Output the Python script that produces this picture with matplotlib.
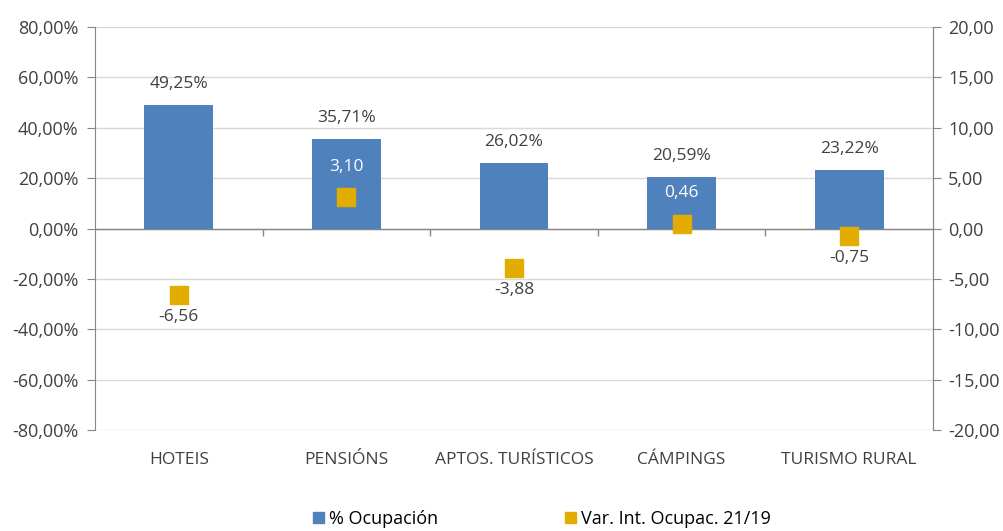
import matplotlib.pyplot as plt
import numpy as np
from matplotlib.patches import Patch

categorias = ['HOTEIS', 'PENSIÓNS', 'APTOS. TURÍSTICOS', 'CÁMPINGS', 'TURISMO RURAL']
ocupacion = [49.25, 35.71, 26.02, 20.59, 23.22]
variacion = [-6.56, 3.10, -3.88, 0.46, -0.75]

azul = '#4F81BD'
amarelo = '#E3AC00'
gris = '#404040'

plt.rcParams['font.family'] = ['Open Sans', 'DejaVu Sans']
plt.rcParams['font.size'] = 13

fig = plt.figure(figsize=(10.04, 5.31), dpi=100)
ax = fig.add_axes([0.0946, 0.190, 0.8347, 0.759])
x = np.arange(len(categorias))

ax.bar(x, ocupacion, width=0.41, color=azul, zorder=3)
ax.set_xlim(-0.5, len(categorias) - 0.5)
ax.set_ylim(-80, 80)
yt = np.arange(-80, 81, 20)
ax.set_yticks(yt)
ax.yaxis.set_ticklabels([('%.2f%%' % v).replace('.', ',') for v in yt])
ax.grid(axis='y', color='#D9D9D9', linewidth=1, zorder=0)
ax.axhline(0, color='#868686', linewidth=1, zorder=2)
ax.set_xticks(x)
ax.set_xticklabels(categorias, color=gris, fontsize=12.5)
ax.tick_params(axis='x', length=0, pad=16)
ax.tick_params(axis='y', length=6, color='#868686', labelcolor=gris, labelsize=13, pad=6)
for s in ['top', 'bottom']:
    ax.spines[s].set_visible(False)
ax.spines['left'].set_color('#868686')
ax.spines['right'].set_color('#868686')

# marcas entre categorias no eixo 0
bordes = np.arange(len(categorias) + 1) - 0.5
ax.vlines(bordes[1:-1], -2.8, 0, color='#868686', linewidth=1, zorder=2)

for xi, v in zip(x, ocupacion):
    ax.annotate(('%.2f%%' % v).replace('.', ','), (xi, v), xytext=(0, 15),
                textcoords='offset points', ha='center', va='center', color=gris, fontsize=12.5)

ax2 = ax.twinx()
ax2.set_ylim(-20, 20)
yt2 = np.arange(-20, 21, 5)
ax2.set_yticks(yt2)
ax2.set_yticklabels([('%.2f' % v).replace('.', ',') for v in yt2])
ax2.tick_params(axis='y', length=6, color='#868686', labelcolor=gris, labelsize=13, pad=5)
for s in ['top', 'bottom', 'left']:
    ax2.spines[s].set_visible(False)
ax2.spines['right'].set_color('#868686')
ax2.scatter(x, variacion, marker='s', s=165, color=amarelo, zorder=5)

for xi, v in zip(x, variacion):
    txt = ('%.2f' % v).replace('.', ',')
    if v > 0:
        ax2.annotate(txt, (xi, v), xytext=(0, 22), textcoords='offset points',
                     ha='center', va='center', color='white', fontsize=12.5)
    else:
        ax2.annotate(txt, (xi, v), xytext=(0, -16), textcoords='offset points',
                     ha='center', va='center', color=gris, fontsize=12.5)

handles = [Patch(color=azul), Patch(color=amarelo)]
fig.legend(handles, ['% Ocupación', 'Var. Int. Ocupac. 21/19'], loc='lower center',
           bbox_to_anchor=(0.54, -0.025), ncol=2, frameon=False, fontsize=13,
           handlelength=0.6, handleheight=0.6, handletextpad=0.3, columnspacing=7)

plt.savefig('out.png')
